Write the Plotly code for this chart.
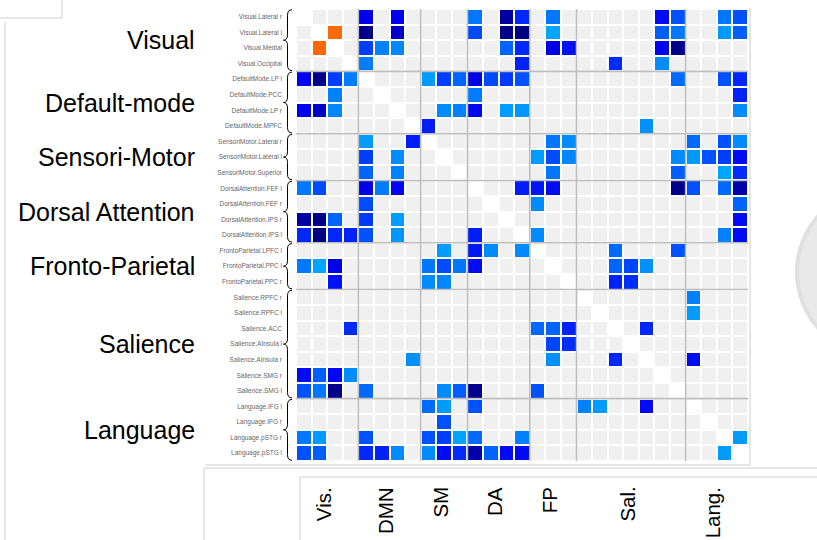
import numpy as np
import plotly.graph_objects as go

roi_labels = [
    "Visual.Lateral r", "Visual.Lateral l", "Visual.Medial", "Visual.Occipital",
    "DefaultMode.LP l", "DefaultMode.PCC", "DefaultMode.LP r", "DefaultMode.MPFC",
    "SensoriMotor.Lateral r", "SensoriMotor.Lateral l", "SensoriMotor.Superior",
    "DorsalAttention.FEF l", "DorsalAttention.FEF r", "DorsalAttention.IPS r", "DorsalAttention.IPS l",
    "FrontoParietal.LPFC l", "FrontoParietal.PPC l", "FrontoParietal.PPC r",
    "Salience.RPFC r", "Salience.RPFC l", "Salience.ACC", "Salience.AInsula l",
    "Salience.AInsula r", "Salience.SMG r", "Salience.SMG l",
    "Language.IFG l", "Language.IFG r", "Language.pSTG r", "Language.pSTG l",
]
network_names = ["Visual", "Default-mode", "Sensori-Motor", "Dorsal Attention",
                 "Fronto-Parietal", "Salience", "Language"]
network_abbrev = ["Vis.", "DMN", "SM", "DA", "FP", "Sal.", "Lang."]
network_sizes = [4, 4, 3, 4, 3, 7, 4]

# significant connections (upper triangle): source ROI, target ROI, t value
edge_src = [0, 0, 0, 0, 0, 0, 0, 0, 0, 0,
            1, 1, 1, 1, 1, 1, 1, 1, 1, 1, 1,
            2, 2, 2, 2, 2, 2, 2, 2, 2,
            3, 3, 3, 3,
            4, 4, 4, 4, 4, 4, 4, 4, 4, 4,
            5, 5,
            6, 6, 6, 6, 6, 6,
            7, 7,
            8, 8, 8, 8, 8,
            9, 9, 9, 9, 9, 9, 9, 9,
            10, 10, 10, 10,
            11, 11, 11, 11, 11, 11, 11,
            12, 12,
            13,
            14, 14, 14,
            15, 15,
            16, 16, 16,
            17, 17,
            18, 19, 20, 22, 27]
edge_tgt = [4, 6, 11, 13, 14, 16, 23, 24, 27, 28,
            2, 4, 6, 11, 13, 14, 16, 23, 24, 27, 28,
            4, 5, 6, 13, 14, 16, 17, 23, 24,
            4, 14, 20, 23,
            8, 9, 10, 11, 12, 13, 14, 24, 27, 28,
            11, 28,
            9, 10, 11, 13, 14, 28,
            8, 22,
            16, 17, 25, 27, 28,
            15, 16, 17, 24, 25, 26, 27, 28,
            16, 24, 27, 28,
            14, 15, 16, 24, 25, 27, 28,
            15, 28,
            28,
            15, 27, 28,
            20, 24,
            20, 21, 22,
            20, 21,
            25, 25, 22, 25, 28]
edge_t = [5.0, 5.0, 3.0, 5.8, 4.3, 3.0, 4.8, 3.6, 3.0, 3.6,
          -3.0, 6.1, 5.4, 3.7, 6.1, 6.2, 2.1, 3.4, 3.0, 2.3, 3.4,
          3.9, 2.8, 2.7, 3.3, 4.3, 5.1, 4.7, 4.9, 6.1,
          2.9, 4.4, 4.2, 2.6,
          2.3, 3.9, 3.3, 5.1, 3.7, 4.0, 3.6, 3.2, 3.6, 4.3,
          2.9, 4.4,
          2.6, 2.8, 4.9, 2.3, 2.4, 2.6,
          4.5, 2.5,
          3.0, 2.6, 3.2, 3.6, 2.6,
          2.3, 3.7, 2.7, 2.6, 2.3, 3.6, 3.9, 4.8,
          3.0, 3.4, 2.1, 4.2,
          4.5, 4.6, 4.8, 6.0, 3.6, 3.2, 5.7,
          2.6, 3.3,
          4.8,
          2.6, 2.8, 4.8,
          3.2, 3.6,
          3.3, 3.8, 2.5,
          4.4, 4.2,
          2.8, 2.3, 4.3, 4.8, 2.3]

n = len(roi_labels)
mat = np.zeros((n, n))
for s, t, v in zip(edge_src, edge_tgt, edge_t):
    mat[s, t] = v
    mat[t, s] = v
z = [[None if i == j else float(mat[i, j]) for j in range(n)] for i in range(n)]

zmin, zmax = -7.0, 7.0
def nrm(v):
    return (v - zmin) / (zmax - zmin)

colorscale = [
    [0.0, "#cc2200"], [nrm(-3), "#ff6a00"], [nrm(-2), "#ff9900"],
    [nrm(0), "#f0f0f0"], [nrm(2), "#00aaff"], [nrm(3), "#0077ff"],
    [nrm(4), "#0038ff"], [nrm(5), "#0000f0"], [nrm(6), "#00008c"], [1.0, "#000060"],
]

W, H = 817, 540
ML, MR, MT, MB = 296, 69, 9, 79
PW, PH = W - ML - MR, H - MT - MB

def px2x(px):
    return (px - ML) / PW

def px2y(py):
    return (H - MB - py) / PH

fig = go.Figure(go.Heatmap(
    z=z, x=list(range(n)), y=list(range(n)),
    colorscale=colorscale, zmin=zmin, zmax=zmax, showscale=False,
    xgap=2, ygap=2, hoverongaps=False,
))

shapes = []
bounds = np.cumsum(network_sizes)
starts = np.concatenate([[0], bounds[:-1]])
sep_color = "#bdbdbd"
for b in bounds[:-1]:
    pos = b - 0.5
    shapes.append(dict(type="line", xref="x", yref="y", x0=pos, x1=pos, y0=-0.5, y1=n - 0.5,
                       line=dict(color=sep_color, width=1.6), layer="above"))
    shapes.append(dict(type="line", xref="x", yref="y", y0=pos, y1=pos, x0=-0.5, x1=n - 0.5,
                       line=dict(color=sep_color, width=1.6), layer="above"))

# curly braces beside row labels
xr, xs, xc = px2x(292), px2x(287.5), px2x(283.5)
d = 0.35
for s0, sz in zip(starts, network_sizes):
    top = s0 - 0.5 + 0.05
    bot = s0 + sz - 0.5 - 0.05
    mid = (top + bot) / 2
    path = (f"M {xr},{top} Q {xs},{top} {xs},{top + d} L {xs},{mid - d} "
            f"Q {xs},{mid} {xc},{mid} Q {xs},{mid} {xs},{mid + d} "
            f"L {xs},{bot - d} Q {xs},{bot} {xr},{bot}")
    shapes.append(dict(type="path", xref="paper", yref="y", path=path,
                       line=dict(color="black", width=1.0)))

frame_col = "#cfcfcf"
def pline(x0, y0, x1, y1, color=frame_col, width=1):
    shapes.append(dict(type="line", xref="paper", yref="paper",
                       x0=px2x(x0), y0=px2y(y0), x1=px2x(x1), y1=px2y(y1),
                       line=dict(color=color, width=width)))

pline(205, 465, 750, 465)
pline(750, 8, 750, 465)
pline(204, 468, 817, 468)
pline(204, 468, 204, 540)
pline(300, 477, 817, 477)
pline(300, 477, 300, 540)
pline(0, 18, 62, 18)
pline(62, 0, 62, 18)
pline(5, 22, 5, 540)

# partially visible grey sphere at right edge
shapes.append(dict(type="circle", xref="paper", yref="paper",
                   x0=px2x(795), x1=px2x(967), y0=px2y(358), y1=px2y(186),
                   fillcolor="#e0e0e0", line=dict(width=0)))
shapes.append(dict(type="circle", xref="paper", yref="paper",
                   x0=px2x(799), x1=px2x(963), y0=px2y(354), y1=px2y(190),
                   fillcolor="#e9e9e9", line=dict(width=0)))

annotations = []
for name, s0, sz in zip(network_names, starts, network_sizes):
    annotations.append(dict(text=name, xref="paper", yref="y", x=px2x(197), xanchor="right",
                            y=s0 + (sz - 1) / 2, yanchor="middle", showarrow=False,
                            font=dict(size=25, color="black", family="Liberation Sans, Arial")))
for ab, s0, sz in zip(network_abbrev, starts, network_sizes):
    annotations.append(dict(text=ab, xref="x", yref="paper", x=s0 + (sz - 1) / 2, xanchor="center",
                            xshift=-4, y=px2y(485), yanchor="top", textangle=-90, showarrow=False,
                            font=dict(size=20.5, color="black", family="Liberation Sans, Arial")))

fig.update_layout(
    width=W, height=H,
    margin=dict(l=ML, r=MR, t=MT, b=MB, pad=0),
    paper_bgcolor="white", plot_bgcolor="white",
    xaxis=dict(range=[-0.5, n - 0.5], showticklabels=False, showgrid=False,
               zeroline=False, showline=False, ticks=""),
    yaxis=dict(range=[n - 0.5, -0.5], tickvals=list(range(n)), ticktext=roi_labels,
               tickfont=dict(size=6.5, color="#666666", family="Liberation Sans, Arial"),
               ticks="", ticklabelstandoff=13, showgrid=False, zeroline=False, showline=False),
    shapes=shapes, annotations=annotations, showlegend=False,
)

fig.write_html("out.html", config={"displayModeBar": False},
               post_script="document.body.style.margin='0px';document.body.style.padding='0px';document.body.style.overflow='hidden';")
